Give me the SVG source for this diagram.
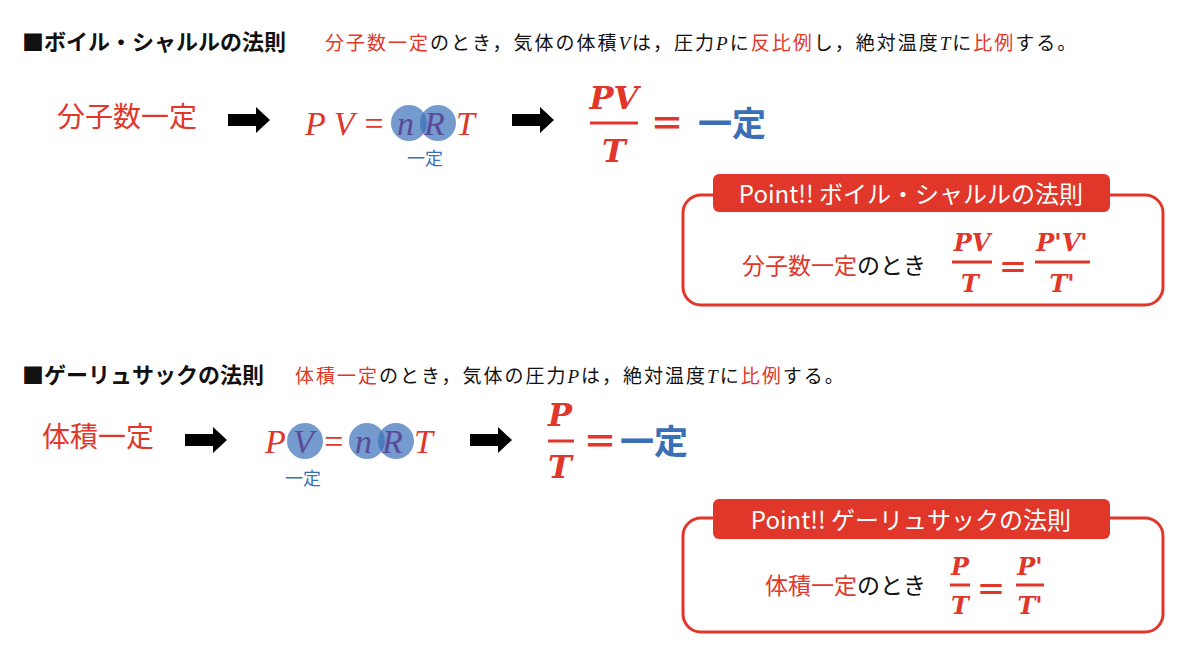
<svg xmlns="http://www.w3.org/2000/svg" width="1200" height="672" viewBox="0 0 1200 672">
<defs>
<style>
.jp{font-family:"Noto Sans CJK JP","Noto Sans",sans-serif}
.r{fill:#e0372a}.b{fill:#3a6fb8}.k{fill:#111}
.m{font-family:"Liberation Serif",serif;font-style:italic}
.mb{font-family:"DejaVu Serif","Liberation Serif",serif;font-style:italic;font-weight:bold}
.ln{stroke:#e0372a;stroke-width:3}
.box{fill:none;stroke:#e0372a;stroke-width:3}
.circ{fill:#3a6fb8;fill-opacity:0.7}
.d{letter-spacing:2px}
</style>
<polygon id="arr" points="0,-6 28,-6 28,-13 42,0 28,13 28,6 0,6" fill="#000"/>
</defs>
<rect width="1200" height="672" fill="#fff"/>
<g id="title1">
<text x="22" y="50" class="jp k" font-size="22" font-weight="bold">■ボイル・シャルルの法則</text>
<text x="325" y="50" class="jp d" font-size="19"><tspan class="r">分子数一定</tspan><tspan class="k">のとき，気体の体積</tspan><tspan class="k m">V</tspan><tspan class="k">は，圧力</tspan><tspan class="k m">P</tspan><tspan class="k">に</tspan><tspan class="r">反比例</tspan><tspan class="k">し，絶対温度</tspan><tspan class="k m">T</tspan><tspan class="k">に</tspan><tspan class="r">比例</tspan><tspan class="k">する。</tspan></text>
</g>
<g id="row1">
<text x="57" y="127" class="jp r" font-size="28">分子数一定</text>
<circle class="circ" cx="409" cy="123" r="18"/><circle class="circ" cx="438" cy="123" r="18"/>
<text x="305" y="135" class="m r" font-size="34">P V =</text>
<text x="397" y="135" class="m" font-size="34" fill="#5a4a9a">n</text>
<text x="424" y="135" class="m" font-size="34" fill="#5a4a9a">R</text>
<text x="456" y="135" class="m r" font-size="34">T</text>
<text x="425" y="165" class="jp b" font-size="18" text-anchor="middle">一定</text>
<text x="614" y="109" class="mb r" font-size="32" text-anchor="middle">PV</text>
<line class="ln" x1="590" y1="123" x2="638" y2="123" stroke-width="4"/>
<text x="614" y="162" class="mb r" font-size="32" text-anchor="middle">T</text>
<text x="650" y="136" class="jp r" font-size="34" font-weight="bold">＝</text>
<text x="698" y="136" class="jp b" font-size="34" font-weight="bold">一定</text>
</g>
<g id="point1">
<rect class="box" x="683" y="195" width="480" height="110" rx="18"/>
<rect x="713" y="174" width="397" height="38" rx="6" fill="#e0372a"/>
<text x="911" y="203" class="jp" font-size="24" fill="#fff" text-anchor="middle">Point!! ボイル・シャルルの法則</text>
<text x="742" y="274" class="jp" font-size="23"><tspan class="r">分子数一定</tspan><tspan class="k">のとき</tspan></text>
<text x="972" y="251" class="mb r" font-size="24" text-anchor="middle">PV</text>
<line class="ln" x1="952" y1="262" x2="992" y2="262"/>
<text x="970" y="292" class="mb r" font-size="24" text-anchor="middle">T</text>
<text x="998" y="278" class="jp r" font-size="30" font-weight="bold">＝</text>
<text x="1062" y="251" class="mb r" font-size="24" text-anchor="middle">P'V'</text>
<line class="ln" x1="1035" y1="262" x2="1090" y2="262"/>
<text x="1062" y="292" class="mb r" font-size="24" text-anchor="middle">T'</text>
</g>
<g id="title2">
<text x="22" y="383" class="jp k" font-size="22" font-weight="bold">■ゲーリュサックの法則</text>
<text x="295" y="383" class="jp d" font-size="19"><tspan class="r">体積一定</tspan><tspan class="k">のとき，気体の圧力</tspan><tspan class="k m">P</tspan><tspan class="k">は，絶対温度</tspan><tspan class="k m">T</tspan><tspan class="k">に</tspan><tspan class="r">比例</tspan><tspan class="k">する。</tspan></text>
</g>
<g id="row2">
<text x="42" y="447" class="jp r" font-size="28">体積一定</text>
<circle class="circ" cx="305" cy="441" r="18"/><circle class="circ" cx="367" cy="441" r="18"/><circle class="circ" cx="396" cy="441" r="18"/>
<text x="265" y="453" class="m r" font-size="34">P</text>
<text x="293" y="453" class="m" font-size="34" fill="#5a4a9a">V</text>
<text x="322" y="453" class="m r" font-size="34">=</text>
<text x="355" y="453" class="m" font-size="34" fill="#5a4a9a">n</text>
<text x="382" y="453" class="m" font-size="34" fill="#5a4a9a">R</text>
<text x="414" y="453" class="m r" font-size="34">T</text>
<text x="303" y="485" class="jp b" font-size="18" text-anchor="middle">一定</text>
<text x="560" y="426" class="mb r" font-size="32" text-anchor="middle">P</text>
<line class="ln" x1="548" y1="441" x2="574" y2="441" stroke-width="4"/>
<text x="560" y="478" class="mb r" font-size="32" text-anchor="middle">T</text>
<text x="583" y="454" class="jp r" font-size="34" font-weight="bold">＝</text>
<text x="620" y="454" class="jp b" font-size="34" font-weight="bold">一定</text>
</g>
<g id="point2">
<rect class="box" x="683" y="518" width="480" height="114" rx="18"/>
<rect x="713" y="499" width="397" height="40" rx="6" fill="#e0372a"/>
<text x="911" y="529" class="jp" font-size="24" fill="#fff" text-anchor="middle">Point!! ゲーリュサックの法則</text>
<text x="765" y="594" class="jp" font-size="23"><tspan class="r">体積一定</tspan><tspan class="k">のとき</tspan></text>
<text x="960" y="575" class="mb r" font-size="24" text-anchor="middle">P</text>
<line class="ln" x1="950" y1="585" x2="970" y2="585"/>
<text x="960" y="614" class="mb r" font-size="24" text-anchor="middle">T</text>
<text x="976" y="600" class="jp r" font-size="30" font-weight="bold">＝</text>
<text x="1030" y="575" class="mb r" font-size="24" text-anchor="middle">P'</text>
<line class="ln" x1="1016" y1="585" x2="1044" y2="585"/>
<text x="1030" y="614" class="mb r" font-size="24" text-anchor="middle">T'</text>
</g>
<g id="connectors">
<use href="#arr" x="228" y="120"/>
<use href="#arr" x="512" y="120"/>
<use href="#arr" x="185" y="440"/>
<use href="#arr" x="470" y="440"/>
</g>
</svg>
